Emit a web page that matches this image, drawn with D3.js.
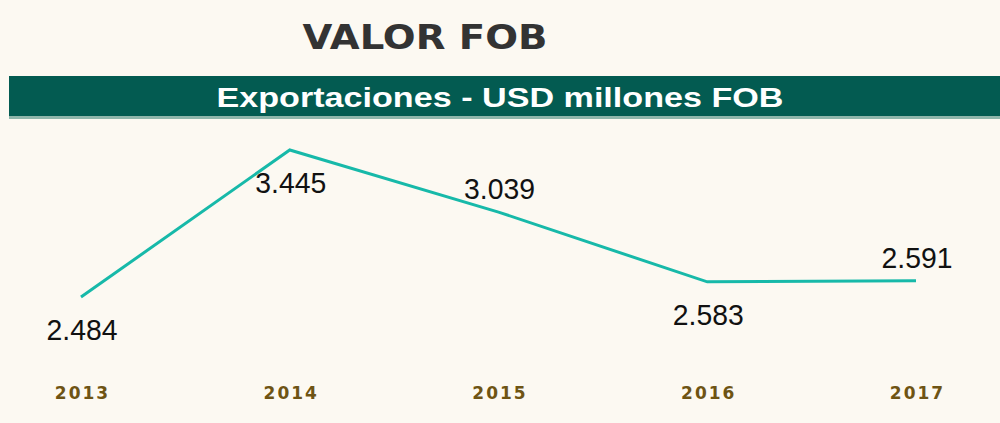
<!DOCTYPE html>
<html>
<head>
<meta charset="utf-8">
<script src="https://cdn.jsdelivr.net/npm/d3@7"></script>
<style>
  html, body { margin: 0; padding: 0; background: #fcf9f2; }
  svg { display: block; }
</style>
</head>
<body>
<div id="chart"></div>
<script>
// chart data
var years = ["2013", "2014", "2015", "2016", "2017"];
var exportValues = [2484, 3445, 3039, 2583, 2591];
var chartTitle = "VALOR FOB";
var bannerText = "Exportaciones - USD millones FOB";

(function () {
  var width = 1000,
      height = 423;

  var locale = d3.formatLocale({decimal: ",", thousands: ".", grouping: [3], currency: ["$", ""]});
  var fmt = locale.format(",d");

  var svg = d3.select("#chart").append("svg")
      .attr("width", width)
      .attr("height", height);

  // background
  svg.append("rect")
      .attr("width", width)
      .attr("height", height)
      .attr("fill", "#fcf9f2");

  // title
  svg.append("text")
      .attr("x", 425)
      .attr("y", 49)
      .attr("text-anchor", "middle")
      .attr("font-family", "'DejaVu Sans', sans-serif")
      .attr("font-weight", "bold")
      .attr("font-size", 34)
      .attr("fill", "#333333")
      .attr("textLength", 245)
      .attr("lengthAdjust", "spacingAndGlyphs")
      .text(chartTitle);

  // green banner
  svg.append("rect")
      .attr("x", 9).attr("y", 76)
      .attr("width", width - 9).attr("height", 40)
      .attr("fill", "#035b51");
  svg.append("rect")
      .attr("x", 9).attr("y", 116)
      .attr("width", width - 9).attr("height", 3)
      .attr("fill", "#8fb6ab");

  svg.append("text")
      .attr("x", 500)
      .attr("y", 107)
      .attr("text-anchor", "middle")
      .attr("font-family", "'Liberation Sans', Arial, sans-serif")
      .attr("font-weight", "bold")
      .attr("font-size", 27)
      .attr("fill", "#ffffff")
      .attr("textLength", 567)
      .attr("lengthAdjust", "spacingAndGlyphs")
      .text(bannerText);

  /*--------------------------- scales ---------------------------*/
  var x = d3.scalePoint()
      .domain(years)
      .range([81, 916]);

  var y = d3.scaleLinear()
      .domain([2484, 3445])
      .range([297, 150]);

  var data = years.map(function (yr, i) { return {year: yr, value: exportValues[i]}; });

  var line = d3.line()
      .x(function (d) { return x(d.year); })
      .y(function (d) { return y(d.value); });

  svg.append("path")
      .datum(data)
      .attr("d", line)
      .attr("fill", "none")
      .attr("stroke", "#17b9a9")
      .attr("stroke-width", 3)
      .attr("stroke-linejoin", "miter");

  // value labels: some sit under the point, others above
  var under = {"2013": true, "2014": true, "2016": true};
  svg.selectAll(".val")
      .data(data)
    .enter().append("text")
      .attr("class", "val")
      .attr("x", function (d) { return x(d.year) + 1; })
      .attr("y", function (d) { return y(d.value) + (under[d.year] ? 43 : -13); })
      .attr("text-anchor", "middle")
      .attr("font-family", "'Liberation Sans', Arial, sans-serif")
      .attr("font-size", 30)
      .attr("fill", "#111111")
      .attr("textLength", 71)
      .attr("lengthAdjust", "spacingAndGlyphs")
      .text(function (d) { return fmt(d.value); });

  // x axis labels
  var xAxis = d3.axisBottom(x).tickSize(0).tickPadding(0);
  var gx = svg.append("g")
      .attr("transform", "translate(1,387)")
      .call(xAxis);
  gx.select(".domain").remove();
  gx.selectAll("text")
      .attr("dy", "0.71em")
      .attr("font-family", "'DejaVu Sans', sans-serif")
      .attr("font-weight", "bold")
      .attr("font-size", 17)
      .attr("letter-spacing", 2)
      .attr("fill", "#6e5414");
})();
</script>
</body>
</html>
